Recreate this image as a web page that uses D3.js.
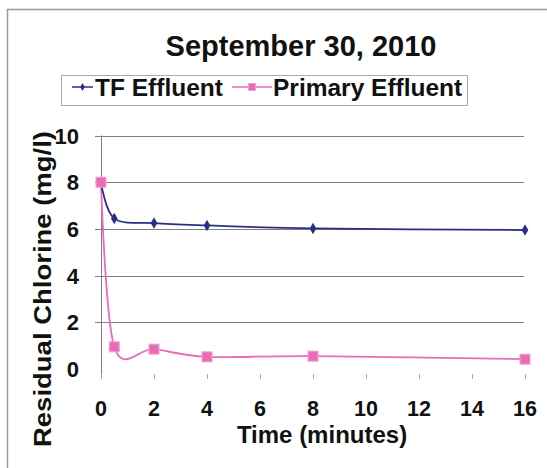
<!DOCTYPE html>
<html>
<head>
<meta charset="utf-8">
<script src="https://cdn.jsdelivr.net/npm/d3@7"></script>
<style>
  body { margin: 0; background: #fff; }
  text { font-family: "Liberation Sans", Arial, sans-serif; font-weight: bold; fill: #111; }
</style>
</head>
<body>
<svg width="547" height="468"></svg>
<script>
// ------------------------------------------------------------- data
const times    = [0, 0.5, 2, 4, 8, 16];
const tfVals   = [8.0, 6.45, 6.25, 6.15, 6.02, 5.95];
const priVals  = [8.0, 0.95, 0.85, 0.52, 0.55, 0.42];
const xTicks   = [0, 2, 4, 6, 8, 10, 12, 14, 16];
const yTicks   = [0, 2, 4, 6, 8, 10];
const seriesNames = ["TF Effluent", "Primary Effluent"];

// -------------------------------------------------------------
const blue = "#283084";
const pink = "#e86db6";

const svg = d3.select("svg");

const x = d3.scaleLinear().domain([0, 16]).range([101, 525]);
const y = d3.scaleLinear().domain([0, 10]).range([369, 135.5]);

// outer frame
svg.append("rect")
  .attr("x", 7.5).attr("y", 9.5)
  .attr("width", 600).attr("height", 500)
  .attr("fill", "none").attr("stroke", "#9a9a9a").attr("stroke-width", 1.5);

// title
svg.append("text")
  .attr("x", 301).attr("y", 56)
  .attr("text-anchor", "middle")
  .style("font-size", "29px")
  .text("September 30, 2010");

// legend
const legend = svg.append("g");
legend.append("rect")
  .attr("x", 61.5).attr("y", 75.5).attr("width", 406).attr("height", 30)
  .attr("fill", "none").attr("stroke", "#aaa");

const legendItems = [
  { name: seriesNames[0], color: blue, x0: 72, x1: 93, tx: 95, shape: "diamond" },
  { name: seriesNames[1], color: pink, x0: 232, x1: 272, tx: 273, shape: "square" }
];
legendItems.forEach(d => {
  legend.append("line")
    .attr("x1", d.x0).attr("x2", d.x1).attr("y1", 87).attr("y2", 87)
    .attr("stroke", d.color).attr("stroke-width", 1.5);
  drawMarker(legend, (d.x0 + d.x1) / 2, 87, d.shape, d.color, 0.7);
  legend.append("text")
    .attr("x", d.tx).attr("y", 95.5)
    .style("font-size", "24.5px")
    .text(d.name);
});

// gridlines
svg.append("g")
  .selectAll("line")
  .data(yTicks.filter(v => v > 0))
  .join("line")
  .attr("x1", 95).attr("x2", 524)
  .attr("y1", d => Math.round(y(d)) + 0.5).attr("y2", d => Math.round(y(d)) + 0.5)
  .attr("stroke", "#808080").attr("stroke-width", 1);

// y axis line
svg.append("line")
  .attr("x1", 101.5).attr("x2", 101.5).attr("y1", y(10)).attr("y2", 378)
  .attr("stroke", "#808080");

// x ticks (no axis line)
svg.append("g")
  .selectAll("line")
  .data(xTicks)
  .join("line")
  .attr("x1", d => Math.round(x(d)) + 0.5).attr("x2", d => Math.round(x(d)) + 0.5)
  .attr("y1", 374).attr("y2", 379)
  .attr("stroke", "#aaa");

// y tick labels
svg.append("g")
  .selectAll("text")
  .data(yTicks)
  .join("text")
  .attr("x", 79).attr("y", d => y(d) + 8)
  .attr("text-anchor", "end")
  .style("font-size", "22px")
  .text(d => d);

// x tick labels
svg.append("g")
  .selectAll("text")
  .data(xTicks)
  .join("text")
  .attr("x", d => x(d)).attr("y", 416)
  .attr("text-anchor", "middle")
  .style("font-size", "21.5px")
  .text(d => d);

// axis titles
svg.append("text")
  .attr("x", 322).attr("y", 443)
  .attr("text-anchor", "middle")
  .style("font-size", "24px")
  .text("Time (minutes)");

svg.append("text")
  .attr("transform", "translate(50.5,289) rotate(-90)")
  .attr("text-anchor", "middle")
  .attr("textLength", 316)
  .attr("lengthAdjust", "spacingAndGlyphs")
  .style("font-size", "24px")
  .text("Residual Chlorine (mg/l)");

// series
const line = d3.line()
  .x(d => x(d[0]))
  .y(d => y(d[1]))
  .curve(d3.curveCardinal.tension(0));

const series = [
  { values: d3.zip(times, tfVals), color: blue, shape: "diamond" },
  { values: d3.zip(times, priVals), color: pink, shape: "square" }
];

series.slice().reverse().forEach(s => {
  svg.append("path")
    .datum(s.values)
    .attr("d", line)
    .attr("fill", "none")
    .attr("stroke", s.color)
    .attr("stroke-width", 1.8);
});
series.forEach(s => {
  s.values.forEach(v => drawMarker(svg, x(v[0]), y(v[1]), s.shape, s.color, 1));
});

// -------------------------------------------------------------
function drawMarker(g, cx, cy, shape, color, k) {
  if (shape === "square") {
    const h = 5 * k;
    g.append("rect")
      .attr("x", cx - h).attr("y", cy - h).attr("width", 2 * h).attr("height", 2 * h)
      .attr("fill", color).attr("stroke", "#f3a0d2").attr("stroke-width", 1);
  } else {
    g.append("path")
      .attr("d", d3.symbol().type(d3.symbolDiamond).size(38 * k * k)())
      .attr("transform", `translate(${cx},${cy})`)
      .attr("fill", color);
  }
}
</script>
</body>
</html>
